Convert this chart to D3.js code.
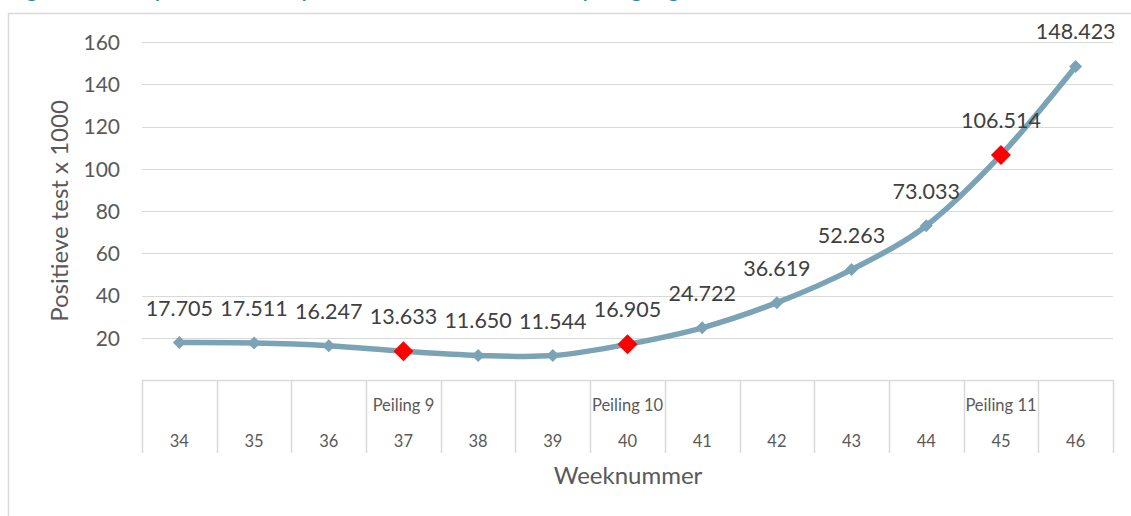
<!DOCTYPE html>
<html>
<head>
<meta charset="utf-8">
<script src="https://cdn.jsdelivr.net/npm/d3@7"></script>
<style>
  html, body { margin: 0; padding: 0; background: #fff; }
  svg { display: block; font-family: Lato, "Open Sans", sans-serif; }
</style>
</head>
<body>
<svg id="chart" width="1131" height="516"></svg>
<script>
const weeks = ["34","35","36","37","38","39","40","41","42","43","44","45","46"];
const peilingen = ["","","","Peiling 9","","","Peiling 10","","","","","Peiling 11",""];
const positives = [17.705, 17.511, 16.247, 13.633, 11.650, 11.544, 16.905, 24.722, 36.619, 52.263, 73.033, 106.514, 148.423];
const labels = ["17.705","17.511","16.247","13.633","11.650","11.544","16.905","24.722","36.619","52.263","73.033","106.514","148.423"];
const yTicks = [20, 40, 60, 80, 100, 120, 140, 160];
const yTitle = "Positieve test x 1000";
const xTitle = "Weeknummer";
const titleText = "Figuur 1: Aantal positieve testen per week (x 1000), bron: RIVM, peilingen gemarkeerd";

(function () {
const svg = d3.select("#chart");
const W = 1131, H = 516;
const pL = 142, pR = 1113, pT = 42, pB = 380;
const grid = "#D9D9D9", text = "#595959", lineCol = "#7BA3B6";

// cut-off title at top (only its lower edge is visible, as in the source)
svg.append("text").attr("x", 10).attr("y", -3).attr("fill", "#2E8C9E")
  .attr("font-size", 20).attr("font-weight", "bold").text(titleText);

// frame
svg.append("line").attr("x1", 8.5).attr("x2", 8.5).attr("y1", 13).attr("y2", H).attr("stroke", grid).attr("stroke-width", 1.5);
svg.append("line").attr("x1", 8).attr("x2", W).attr("y1", 13.5).attr("y2", 13.5).attr("stroke", grid).attr("stroke-width", 1.5);

const x = d3.scaleBand().domain(weeks).range([pL, pR]);
const y = d3.scaleLinear().domain([0, 160]).range([pB, pT]);
const cx = d => x(d) + x.bandwidth() / 2;

// gridlines
svg.append("g").selectAll("line").data(yTicks).join("line")
  .attr("x1", pL).attr("x2", pR)
  .attr("y1", d => Math.round(y(d)) + 0.5).attr("y2", d => Math.round(y(d)) + 0.5)
  .attr("stroke", grid).attr("stroke-width", 1.2);

// y axis labels
const yAxis = d3.axisLeft(y).tickValues(yTicks).tickSize(0).tickPadding(0);
const ya = svg.append("g").attr("transform", `translate(${pL - 22},0)`).call(yAxis);
ya.select(".domain").remove();
ya.selectAll("text").attr("font-size", 21).attr("fill", text).attr("font-family", "Lato, sans-serif").attr("dy", "0.35em");

// y title
svg.append("text").attr("transform", `translate(68,211) rotate(-90)`)
  .attr("text-anchor", "middle").attr("font-size", 24).attr("fill", text).text(yTitle);

// category table
const tb = 453;
svg.append("line").attr("x1", pL).attr("x2", pR).attr("y1", pB + 0.5).attr("y2", pB + 0.5)
  .attr("stroke", grid).attr("stroke-width", 1.5);
const bounds = weeks.map(w => x(w)).concat([pR]);
svg.append("g").selectAll("line").data(bounds).join("line")
  .attr("x1", d => Math.round(d) + 0.5).attr("x2", d => Math.round(d) + 0.5)
  .attr("y1", pB).attr("y2", tb).attr("stroke", grid).attr("stroke-width", 1.5);

const xAxis = d3.axisBottom(x).tickSize(0).tickPadding(0);
const xa = svg.append("g").attr("transform", `translate(0,${pB})`).call(xAxis);
xa.select(".domain").remove();
xa.selectAll("text").attr("font-size", 16.5).attr("fill", text).attr("font-family", "Lato, sans-serif")
  .attr("dy", null).attr("y", 67);

svg.append("g").selectAll("text").data(weeks).join("text")
  .attr("x", d => cx(d)).attr("y", 411).attr("text-anchor", "middle")
  .attr("font-size", 16.5).attr("fill", text).text((d, i) => peilingen[i]);

svg.append("text").attr("x", 628).attr("y", 484).attr("text-anchor", "middle")
  .attr("font-size", 24).attr("fill", text).text(xTitle);

// line
const line = d3.line().x((d, i) => cx(weeks[i])).y(d => y(d)).curve(d3.curveCatmullRom.alpha(0));
svg.append("path").datum(positives).attr("d", line).attr("fill", "none")
  .attr("stroke", lineCol).attr("stroke-width", 5.5).attr("stroke-linejoin", "round");

// markers
const isPeiling = i => peilingen[i] !== "";
svg.append("g").selectAll("path").data(positives).join("path")
  .attr("transform", (d, i) => `translate(${cx(weeks[i])},${y(d)})`)
  .attr("d", (d, i) => { const r = isPeiling(i) ? 10 : 6.5; return `M0,${-r}L${r},0L0,${r}L${-r},0Z`; })
  .attr("fill", (d, i) => isPeiling(i) ? "#FF0000" : lineCol);

// data labels
svg.append("g").selectAll("text").data(positives).join("text")
  .attr("x", (d, i) => cx(weeks[i])).attr("y", d => y(d) - 27)
  .attr("text-anchor", "middle").attr("font-size", 21.5).attr("fill", "#404040")
  .text((d, i) => labels[i]);
})();
</script>
</body>
</html>
